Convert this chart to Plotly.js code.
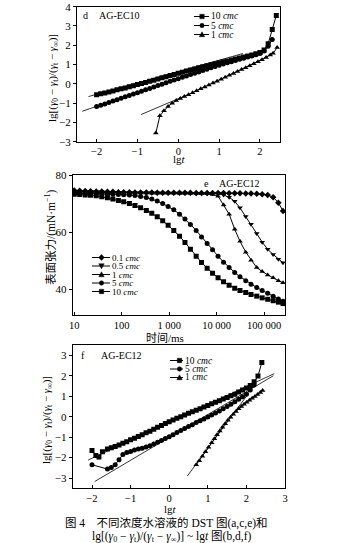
<!DOCTYPE html>
<html>
<head>
<meta charset="utf-8">
<script src="https://cdn.plot.ly/plotly-3.0.1.min.js"></script>
<style>html,body{margin:0;padding:0;background:#fff;}#chart{width:351px;height:543px;}</style>
</head>
<body>
<div id="chart"></div>
<script>
// ---------- Panel d (AG-EC10) ----------
var dX10 = [-2.0,-1.9,-1.8,-1.7,-1.6,-1.5,-1.4,-1.3,-1.2,-1.1,-1.0,-0.9,-0.8,-0.7,-0.6,-0.5,-0.4,-0.3,-0.2,-0.1,0,0.1,0.2,0.3,0.4,0.5,0.6,0.7,0.8,0.9,1.0,1.1,1.2,1.3,1.4,1.5,1.6,1.7,1.8,1.9,2.0,2.1,2.2,2.3,2.4];
var dY10 = [-0.57,-0.52,-0.47,-0.42,-0.37,-0.31,-0.26,-0.21,-0.15,-0.10,-0.04,0.02,0.07,0.13,0.19,0.25,0.31,0.37,0.43,0.49,0.55,0.60,0.66,0.72,0.77,0.83,0.88,0.94,0.99,1.04,1.09,1.14,1.19,1.24,1.29,1.34,1.39,1.44,1.50,1.56,1.63,1.76,2.08,2.82,3.55];
var dX5 = [-2.0,-1.9,-1.8,-1.7,-1.6,-1.5,-1.4,-1.3,-1.2,-1.1,-1.0,-0.9,-0.8,-0.7,-0.6,-0.5,-0.4,-0.3,-0.2,-0.1,0,0.1,0.2,0.3,0.4,0.5,0.6,0.7,0.8,0.9,1.0,1.1,1.2,1.3,1.4,1.5,1.6,1.7,1.8,1.9,2.0,2.1,2.2,2.3];
var dY5 = [-1.18,-1.11,-1.04,-0.97,-0.89,-0.82,-0.75,-0.67,-0.60,-0.53,-0.46,-0.38,-0.31,-0.24,-0.16,-0.09,-0.02,0.06,0.13,0.20,0.27,0.34,0.41,0.48,0.55,0.62,0.69,0.76,0.83,0.90,0.97,1.03,1.09,1.15,1.21,1.27,1.33,1.39,1.45,1.51,1.57,1.70,1.95,2.30];
var dX1 = [-0.55,-0.45,-0.35,-0.25,-0.15,-0.05,0.05,0.15,0.25,0.35,0.45,0.55,0.65,0.75,0.85,0.95,1.05,1.15,1.25,1.35,1.45,1.55,1.65,1.75,1.85,1.95,2.05,2.15,2.25,2.32,2.42];
var dY1 = [-2.55,-1.65,-1.40,-1.17,-1.00,-0.87,-0.76,-0.66,-0.56,-0.46,-0.36,-0.26,-0.16,-0.06,0.04,0.14,0.24,0.34,0.44,0.54,0.64,0.74,0.84,0.94,1.04,1.14,1.25,1.37,1.50,1.58,1.88];
var dFit10X = [-2.2, 1.58], dFit10Y = [-0.66, 1.57];
var dFit5X = [-2.35, 1.0], dFit5Y = [-1.42, 0.99];
var dFit1X = [-0.91, 0.3], dFit1Y = [-1.59, -0.50];

// ---------- Panel e (AG-EC12, DST) ----------
var eTime = [10,13,17,22,29,38,50,65,85,110,145,190,250,330,430,560,730,950,1250,1650,2150,2800,3700,4800,6300,8200,10700,14000,18300,24000,31000,41000,53000,70000,91000,119000,155000,200000,250000];
var e01 = [74.6,74.5,74.4,74.3,74.2,74.2,74.1,74.1,74.0,74.0,74.0,73.9,73.9,73.9,73.9,73.8,73.8,73.8,73.8,73.8,73.8,73.8,73.7,73.7,73.7,73.7,73.7,73.7,73.6,73.6,73.6,73.5,73.5,73.4,73.3,73.0,72.2,70.3,67.4];
var e05 = [74.3,74.3,74.2,74.2,74.1,74.1,74.0,74.0,74.0,73.9,73.9,73.9,73.8,73.8,73.8,73.8,73.7,73.7,73.7,73.7,73.7,73.6,73.6,73.6,73.5,73.5,73.4,73.0,72.2,70.8,68.5,65.5,62.8,59.5,56.5,54.0,52.2,50.5,49.3];
var e1 = [74.0,74.0,73.9,73.9,73.9,73.8,73.8,73.8,73.8,73.7,73.7,73.7,73.7,73.7,73.6,73.6,73.6,73.6,73.6,73.5,73.5,73.5,73.5,73.4,73.4,73.2,72.6,69.5,66.3,61.0,56.8,53.0,50.2,47.6,46.2,45.0,44.0,43.0,42.3];
var e5 = [73.6,73.6,73.5,73.5,73.4,73.4,73.3,73.3,73.2,73.1,73.0,72.8,72.5,72.1,71.6,70.9,70.0,69.0,67.8,66.3,64.6,62.7,60.6,58.3,56.0,53.8,51.6,49.5,47.6,45.9,44.4,43.0,41.8,40.6,39.6,38.6,37.6,36.6,35.8];
var e10 = [73.3,73.2,73.0,72.9,72.7,72.4,72.0,71.6,71.1,70.6,70.0,69.3,68.5,67.6,66.6,65.4,64.0,62.4,60.6,58.6,56.4,54.0,51.6,49.4,47.4,45.6,44.0,42.6,41.4,40.4,39.6,38.9,38.2,37.6,37.0,36.5,36.0,35.5,35.0];
var eTickVals = [10,100,1000,10000,100000];
var eTickText = ['10','100','1 000','10 000','100 000'];

// ---------- Panel f (AG-EC12) ----------
var fX10 = [-2.0,-1.9,-1.82,-1.73,-1.6,-1.5,-1.4,-1.3,-1.2,-1.1,-1.0,-0.9,-0.8,-0.7,-0.6,-0.5,-0.4,-0.3,-0.2,-0.1,0,0.1,0.2,0.3,0.4,0.5,0.6,0.7,0.8,0.9,1.0,1.1,1.2,1.3,1.4,1.5,1.6,1.7,1.8,1.9,2.0,2.1,2.2,2.3,2.4];
var fY10 = [-1.65,-1.90,-1.97,-1.72,-1.58,-1.52,-1.46,-1.38,-1.30,-1.22,-1.13,-1.05,-0.97,-0.88,-0.79,-0.71,-0.62,-0.52,-0.43,-0.34,-0.25,-0.16,-0.08,0.00,0.08,0.16,0.24,0.31,0.39,0.47,0.55,0.63,0.70,0.78,0.86,0.94,1.02,1.10,1.20,1.30,1.40,1.52,1.70,1.98,2.65];
var fX5 = [-2.0,-1.6,-1.5,-1.4,-1.3,-1.2,-1.1,-1.0,-0.9,-0.8,-0.7,-0.6,-0.5,-0.4,-0.3,-0.2,-0.1,0,0.1,0.2,0.3,0.4,0.5,0.6,0.7,0.8,0.9,1.0,1.1,1.2,1.3,1.4,1.5,1.6,1.7,1.8,1.9,2.0,2.1,2.2];
var fY5 = [-2.35,-2.56,-2.48,-2.35,-2.10,-1.85,-1.75,-1.70,-1.63,-1.58,-1.54,-1.48,-1.42,-1.34,-1.25,-1.16,-1.07,-0.98,-0.88,-0.78,-0.68,-0.58,-0.48,-0.39,-0.29,-0.20,-0.11,-0.02,0.08,0.18,0.28,0.38,0.50,0.61,0.73,0.85,0.97,1.10,1.30,1.55];
var fX1 = [0.70,0.78,0.86,0.94,1.02,1.10,1.17,1.24,1.31,1.38,1.45,1.52,1.59,1.66,1.73,1.80,1.87,1.94,2.01,2.08,2.15,2.22,2.29,2.36,2.42];
var fY1 = [-2.35,-2.15,-1.93,-1.72,-1.50,-1.28,-1.08,-0.88,-0.70,-0.52,-0.35,-0.18,-0.03,0.12,0.25,0.38,0.50,0.60,0.70,0.80,0.90,0.99,1.08,1.18,1.28];
var fFit10X = [-2.1, 2.72], fFit10Y = [-2.12, 2.10];
var fFit5X = [-1.93, 2.70], fFit5Y = [-3.17, 2.00];
var fFit1X = [0.47, 2.06], fFit1Y = [-2.90, 1.15];

// ---------- labels ----------
var dLegend = ['10 <i>cmc</i>','5 <i>cmc</i>','1 <i>cmc</i>'];
var eLegend = ['0.1 <i>cmc</i>','0.5 <i>cmc</i>','1 <i>cmc</i>','5 <i>cmc</i>','10 <i>cmc</i>'];
var fLegend = ['10 <i>cmc</i>','5 <i>cmc</i>','1 <i>cmc</i>'];

var W = 351, H = 543;
var SERIF = 'Liberation Serif, Times New Roman, Noto Sans CJK SC, serif';
function PX(x){return x/W;}
function PY(y){return 1-y/H;}

function series(x, y, sym, xa, ya, size){
  return {x:x, y:y, type:'scatter', mode:'lines+markers', xaxis:xa, yaxis:ya, showlegend:false,
    line:{color:'black', width:1}, marker:{symbol:sym, size:size||5, color:'black'}, hoverinfo:'skip'};
}
function fit(x, y, xa, ya){
  return {x:x, y:y, type:'scatter', mode:'lines', xaxis:xa, yaxis:ya, showlegend:false,
    line:{color:'black', width:0.8}, hoverinfo:'skip'};
}

var data = [
  fit(dFit10X, dFit10Y, 'x', 'y'), fit(dFit5X, dFit5Y, 'x', 'y'), fit(dFit1X, dFit1Y, 'x', 'y'),
  series(dX10, dY10, 'square', 'x', 'y', 5),
  series(dX5, dY5, 'circle', 'x', 'y', 5),
  series(dX1, dY1, 'triangle-up', 'x', 'y', 5),
  series(eTime, e01, 'diamond', 'x2', 'y2', 5),
  series(eTime, e05, 'triangle-down', 'x2', 'y2', 5),
  series(eTime, e1, 'triangle-up', 'x2', 'y2', 5),
  series(eTime, e5, 'circle', 'x2', 'y2', 5),
  series(eTime, e10, 'square', 'x2', 'y2', 5),
  fit(fFit10X, fFit10Y, 'x3', 'y3'), fit(fFit5X, fFit5Y, 'x3', 'y3'), fit(fFit1X, fFit1Y, 'x3', 'y3'),
  series(fX10, fY10, 'square', 'x3', 'y3', 5),
  series(fX5, fY5, 'circle', 'x3', 'y3', 5),
  series(fX1, fY1, 'triangle-up', 'x3', 'y3', 5)
];

function axis(extra){
  var a = {showline:true, linecolor:'black', linewidth:1, mirror:true, ticks:'outside', ticklen:3,
    tickcolor:'black', tickwidth:1, showgrid:false, zeroline:false,
    tickfont:{family:SERIF, size:11, color:'black'}};
  for (var k in extra) a[k] = extra[k];
  return a;
}

var shapes = [], annotations = [];
function txt(x, y, text, size, xanchor, extra){
  var a = {xref:'paper', yref:'paper', x:PX(x), y:PY(y), text:text, showarrow:false, borderpad:0,
    xanchor:xanchor||'center', yanchor:'middle', font:{family:SERIF, size:size, color:'black'}};
  for (var k in extra) a[k] = extra[k];
  annotations.push(a);
}
function markerShape(cx, cy, sym, r){
  var s = {xref:'paper', yref:'paper', fillcolor:'black', line:{color:'black', width:0.5}};
  if (sym === 'square'){ s.type='rect'; s.x0=PX(cx-r); s.x1=PX(cx+r); s.y0=PY(cy-r); s.y1=PY(cy+r); }
  else if (sym === 'circle'){ s.type='circle'; s.x0=PX(cx-r); s.x1=PX(cx+r); s.y0=PY(cy-r); s.y1=PY(cy+r); }
  else {
    var pts;
    if (sym === 'triangle-up') pts = [[cx,cy-r-0.5],[cx+r+0.5,cy+r],[cx-r-0.5,cy+r]];
    else if (sym === 'triangle-down') pts = [[cx,cy+r+0.5],[cx+r+0.5,cy-r],[cx-r-0.5,cy-r]];
    else pts = [[cx,cy-r-0.7],[cx+r+0.7,cy],[cx,cy+r+0.7],[cx-r-0.7,cy]];
    s.type='path';
    s.path = 'M' + pts.map(function(p){return PX(p[0]).toFixed(5)+','+PY(p[1]).toFixed(5);}).join(' L') + ' Z';
  }
  shapes.push(s);
}
function legendBlock(labels, syms, x0, x1, mx, tx, ys, size){
  for (var i=0;i<labels.length;i++){
    shapes.push({type:'line', xref:'paper', yref:'paper', x0:PX(x0), x1:PX(x1), y0:PY(ys[i]), y1:PY(ys[i]), line:{color:'black', width:1}});
    markerShape(mx, ys[i], syms[i], 2.2);
    txt(tx, ys[i], labels[i], size, 'left');
  }
}

legendBlock(dLegend, ['square','circle','triangle-up'], 194, 209, 202, 210, [16.5, 25.5, 34.5], 9.5);
legendBlock(eLegend, ['diamond','triangle-down','triangle-up','circle','square'], 92, 110, 101.5, 111, [257.5, 266, 274.5, 283, 291.5], 9);
legendBlock(fLegend, ['square','circle','triangle-up'], 170, 183, 179.5, 184, [360.5, 369, 377.5], 9.5);

// panel labels
txt(85, 15, 'd', 10, 'center');
txt(98, 15, 'AG-EC10', 10, 'left');
txt(206.5, 183.5, 'e', 10, 'center');
txt(218, 183.5, 'AG-EC12', 10, 'left');
txt(83, 355, 'f', 10, 'center');
txt(100, 355, 'AG-EC12', 10, 'left');

// axis titles
var lgTitle = 'lg[(<i>γ</i><sub>0</sub> − <i>γ</i><sub>t</sub>)/(<i>γ</i><sub>t</sub> − <i>γ</i><sub>∞</sub>)]';
txt(53, 78, lgTitle, 11, 'center', {textangle:-90});
txt(180, 159, 'lg<i>t</i>', 11, 'center');
txt(50, 237, '表面张力/(mN·m<sup>−1</sup>)', 11.5, 'center', {textangle:-90});
txt(165, 337.5, '时间/ms', 11, 'center');
txt(47, 420, lgTitle, 11, 'center', {textangle:-90});
txt(170, 508.5, 'lg<i>t</i>', 11, 'center');

// caption
txt(166, 523, '图 4　不同浓度水溶液的 DST 图(a,c,e)和', 11.5, 'center');
txt(172, 537, 'lg[(<i>γ</i><sub>0</sub> − <i>γ</i><sub>t</sub>)/(<i>γ</i><sub>t</sub> − <i>γ</i><sub>∞</sub>)] ~ lg<i>t</i> 图(b,d,f)', 11.5, 'center');

var xt = {ticks:'inside', ticklen:3, tickfont:{family:SERIF, size:10.5, color:'black'}};
function mergeX(o){ for (var k in xt) o[k] = xt[k]; return o; }

var layout = {
  width:W, height:H, margin:{l:0, r:0, t:0, b:0}, paper_bgcolor:'white', plot_bgcolor:'white',
  showlegend:false, font:{family:SERIF, color:'black'},
  xaxis: axis(mergeX({domain:[PX(77), PX(280)], range:[-2.48, 2.49], tickvals:[-2,-1,0,1,2], anchor:'y'})),
  yaxis: axis({domain:[PY(141.7), PY(6.7)], range:[-3, 4], tickvals:[-3,-2,-1,0,1,2,3,4], anchor:'x'}),
  xaxis2: axis(mergeX({domain:[PX(72.7), PX(285)], type:'log', range:[0.967, 5.44], tickvals:eTickVals, ticktext:eTickText, anchor:'y2'})),
  yaxis2: axis({domain:[PY(315), PY(175)], range:[31, 80], tickvals:[40,60,80], anchor:'x2'}),
  xaxis3: axis(mergeX({domain:[PX(72.7), PX(285)], range:[-2.5, 3], tickvals:[-2,-1,0,1,2,3], anchor:'y3'})),
  yaxis3: axis({domain:[PY(488.3), PY(345)], range:[-3.5, 3.5], tickvals:[-3,-2,-1,0,1,2,3], anchor:'x3'}),
  shapes:shapes, annotations:annotations
};

Plotly.newPlot('chart', data, layout, {staticPlot:true, displayModeBar:false});
</script>
</body>
</html>
